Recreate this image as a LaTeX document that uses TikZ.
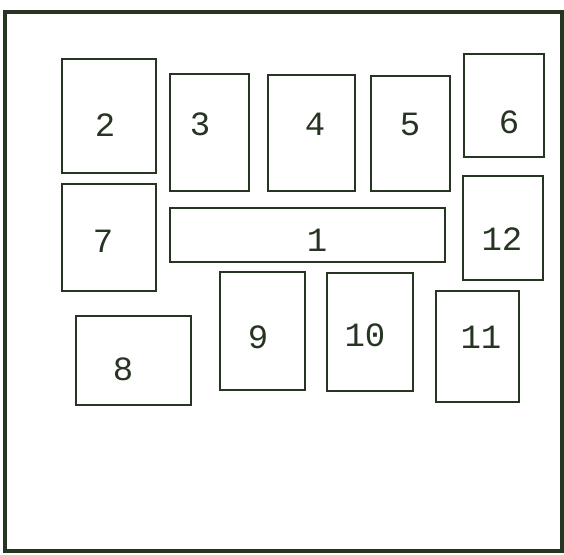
\documentclass[tikz,border=0pt]{standalone}
\usepackage{fontspec}
\setmonofont{Liberation Mono}
\begin{document}
\begin{tikzpicture}[x=0.5pt, y=-0.5pt]
    % Couleurs
    \definecolor{colorInk}{RGB}{38,52,34}
    \tikzset{
        box/.style={draw=colorInk, line width=1pt},
        num/.style={colorInk, inner sep=0pt, font=\ttfamily\fontsize{17}{17}\selectfont}
    }
    \useasboundingbox (0,0) rectangle (564,554);

    % Cadre
    \draw[colorInk, line width=1.6pt] (5,12) rectangle (562,551);

    % Rangée du haut
    \draw[box] (62,59) rectangle (156,173);
    \node[num] (n2) at (105,125) {2};
    \draw[box] (170,74) rectangle (249,191);
    \node[num] (n3) at (200,124) {3};
    \draw[box] (268,75) rectangle (355,191);
    \node[num] (n4) at (315,124) {4};
    \draw[box] (371,76) rectangle (450,191);
    \node[num] (n5) at (410,124) {5};
    \draw[box] (464,54) rectangle (544,157);
    \node[num] (n6) at (509,122) {6};

    % Rangée du milieu
    \draw[box] (62,184) rectangle (156,291);
    \node[num] (n7) at (103,241) {7};
    \draw[box] (170,208) rectangle (445,262);
    \node[num] (n1) at (317,240) {1};
    \draw[box] (463,176) rectangle (543,280);
    \node[num] (n12) at (502,239) {12};

    % Rangée du bas
    \draw[box] (76,316) rectangle (191,405);
    \node[num] (n8) at (123,369) {8};
    \draw[box] (220,272) rectangle (305,390);
    \node[num] (n9) at (258,337) {9};
    \draw[box] (327,273) rectangle (413,391);
    \node[num] (n10) at (365,335) {10};
    \draw[box] (436,291) rectangle (519,402);
    \node[num] (n11) at (481,337) {11};
\end{tikzpicture}
\end{document}
